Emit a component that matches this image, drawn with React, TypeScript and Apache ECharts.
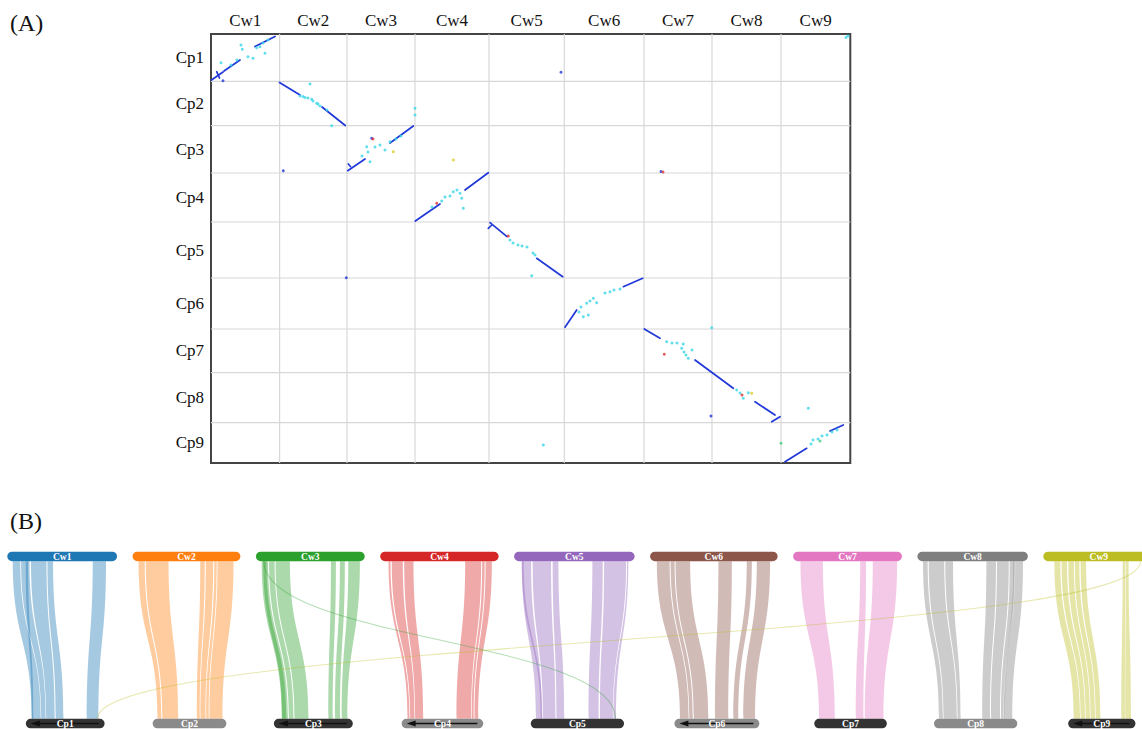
import React, { useEffect, useRef } from 'react';
import * as echarts from 'echarts';

// ---------- chromosome data ----------
const cwNames = ['Cw1', 'Cw2', 'Cw3', 'Cw4', 'Cw5', 'Cw6', 'Cw7', 'Cw8', 'Cw9'];
const cpNames = ['Cp1', 'Cp2', 'Cp3', 'Cp4', 'Cp5', 'Cp6', 'Cp7', 'Cp8', 'Cp9'];
const cwLengths = [68.6, 67.4, 68.0, 74.0, 75.3, 79.7, 68.0, 69.0, 69.3];
const cpLengths = [47.3, 44.3, 47.4, 49.0, 56.0, 51.0, 43.6, 50.0, 40.4];
const cpReversed = [true, false, true, true, false, true, false, false, true];
const cwColors = ['#1f77b4', '#ff7f0e', '#2ca02c', '#d62728', '#9467bd', '#8c564b', '#e377c2', '#7f7f7f', '#bcbd22'];
const cpColors = ['#333333', '#8a8a8a', '#333333', '#8a8a8a', '#333333', '#8a8a8a', '#333333', '#8a8a8a', '#333333'];

// ---------- dot plot (global genome coordinates) ----------
const blueSegments = [
  [0.5, 46, 12, 38], [13, 37, 29, 26], [44, 12.5, 64, 2.5], [5.7, 37.7, 8.5, 44],
  [68.5, 48.5, 89, 61], [111, 73, 134.3, 91.5],
  [136.7, 136.7, 154, 125], [179, 109, 202.3, 92], [137.3, 130, 139.5, 132.5],
  [204.3, 187, 229, 170], [254, 156, 277.3, 138.7],
  [279, 188.7, 296, 202.7], [325.7, 224.3, 351.7, 242.7], [277.3, 194.3, 280.3, 191.5],
  [354, 293.3, 365.7, 276], [412.3, 252.7, 431.7, 244.3],
  [433.3, 295, 449, 304.3], [484, 326, 522.3, 354.3], [544, 367.7, 564, 381], [560.7, 387.7, 569, 382.7],
  [574, 427.7, 595.7, 414.3], [619, 397, 632.3, 391],
];
const cyanDots = [
  [30, 11], [31.3, 15.3], [10, 28.7], [45.7, 13.7], [49, 12.7], [54, 19.3], [37, 22.7], [42, 24.3], [26, 26], [20, 31], [52, 9], [57, 6],
  [89, 62], [94, 63.5], [100.7, 65.3], [105.7, 69.3], [107, 70], [102, 67], [99, 50], [120.7, 91.7], [97, 64], [109, 72], [116, 76], [92, 62.5],
  [155.7, 112.7], [159, 127.7], [174, 116], [179, 107.7], [164, 113], [169, 111], [157, 118], [151, 122], [204, 74.3], [204, 81], [185, 105], [190, 102],
  [242.3, 157.7], [249, 159.3], [250.7, 164.3], [252.3, 174.3], [230.7, 167], [234, 163], [246, 156], [239, 162], [221, 173],
  [302, 209], [307, 211], [311, 212], [316, 213], [322, 219], [320.7, 241.7], [299, 206], [324, 221], [332.3, 411],
  [372.3, 282.7], [377.3, 281], [375.7, 269.3], [382.3, 264.3], [385.7, 268.7], [399, 257.7], [409, 255], [394, 259], [403, 256], [370, 273], [379, 267], [368, 278],
  [455.7, 307.7], [461, 309], [466, 309], [472.3, 310], [470.7, 314.3], [473, 318], [475, 321], [477.3, 324.3], [481, 316], [500.7, 293.7],
  [525.7, 356], [529, 359], [532.3, 364.3], [537.3, 358.7],
  [597.3, 374.3], [602, 406], [607, 405], [611, 402], [616, 401], [621, 398], [626, 396], [600, 410], [637, 2], [635, 3.5],
];
const blueDots = [[12, 46.7], [72.3, 136.7], [350, 38.3], [135.3, 243.7], [500, 382], [160.7, 104.3], [450, 137.5]];
const redDots = [[162, 105], [225.7, 169.3], [453.3, 320.3], [531, 361], [452, 138], [297.3, 202]];
const yellowDots = [[182.3, 117.7], [242.3, 126], [540.7, 359.3]];
const greenDots = [[570, 409.3], [609, 407]];

// ---------- synteny ribbons: [Cw index, Cw start, Cw end, Cp start, Cp end] (Cp along drawn bar) ----------
const ribbons = [
  [1, 3.4, 8.1, 3.6, 9.0], [1, 8.6, 13.9, 9.3, 12.0], [1, 14.8, 24.5, 12.3, 17.4], [1, 25.1, 28.6, 18.0, 22.6], [1, 53.4, 61.7, 36.6, 43.6], [1, 11.5, 13.0, 3.6, 4.6],
  [2, 3.75, 7.6, 3.0, 5.3], [2, 8.25, 22.5, 5.9, 15.4], [2, 42.3, 45.1, 26.6, 28.4], [2, 45.75, 50.4, 28.8, 31.8], [2, 51.1, 52.6, 32.2, 33.8], [2, 53.1, 63.1, 34.2, 42.0],
  [3, 3.6, 7.6, 4.8, 8.5], [3, 8.25, 11.7, 9.1, 11.8], [3, 12.3, 21.25, 12.4, 20.8], [3, 46.9, 50.0, 32.8, 35.4], [3, 52.5, 55.6, 36.8, 39.8], [3, 57.75, 65.0, 40.8, 44.2], [3, 4.6, 6.6, 5.0, 7.5],
  [4, 5.2, 6.4, 3.6, 4.8], [4, 7.2, 14.1, 5.2, 7.8], [4, 15.0, 20.8, 8.2, 13.0], [4, 53.1, 63.1, 33.0, 41.8], [4, 63.75, 65.3, 42.2, 43.3], [4, 65.9, 69.8, 43.8, 46.0],
  [5, 4.8, 10.6, 3.2, 6.8], [5, 11.6, 23.1, 7.4, 14.9], [5, 24.1, 27.7, 15.5, 20.2], [5, 48.9, 55.4, 34.8, 40.8], [5, 56.25, 70.0, 41.6, 49.4], [5, 70.6, 71.4, 49.7, 51.2], [5, 4.8, 6.0, 6.0, 7.0],
  [6, 4.2, 12.2, 3.4, 8.6], [6, 12.8, 15.3, 9.0, 11.1], [6, 15.9, 25.0, 11.7, 20.4], [6, 42.7, 51.1, 24.4, 32.4], [6, 60.4, 63.6, 35.4, 38.4], [6, 66.7, 75.0, 41.4, 48.4],
  [7, 4.6, 18.6, 3.0, 12.4], [7, 41.9, 45.6, 25.0, 29.6], [7, 49.8, 65.0, 30.4, 41.6],
  [8, 3.5, 6.4, 3.0, 5.4], [8, 7.1, 16.75, 5.8, 13.8], [8, 17.4, 22.25, 14.2, 16.0], [8, 43.1, 49.1, 29.0, 33.7], [8, 49.75, 57.1, 34.3, 39.7], [8, 57.7, 60.5, 40.3, 41.8], [8, 61.1, 66.0, 42.4, 47.0], [8, 60.0, 61.0, 42.0, 42.6],
  [9, 6.9, 10.6, 3.4, 7.2], [9, 11.4, 14.8, 7.6, 10.2], [9, 15.6, 19.1, 10.6, 13.2], [9, 19.7, 22.5, 13.6, 16.2], [9, 23.3, 26.7, 16.6, 19.4], [9, 49.6, 51.25, 32.0, 34.2], [9, 51.6, 53.3, 34.4, 37.8],
];
// inter-chromosomal links: [Cw index, Cw pos, Cp index, Cp pos]
const links = [
  [9, 60.8, 1, 43.0],
  [3, 4.9, 5, 50.9],
];

// ---------- helpers / layout ----------
const sum = (a: number[]) => a.reduce((s, v) => s + v, 0);
const cwTotal = sum(cwLengths);
const cpTotal = sum(cpLengths);
const cwStartsG = cwLengths.map((_, i) => sum(cwLengths.slice(0, i)));
const cpStartsG = cpLengths.map((_, i) => sum(cpLengths.slice(0, i)));
const cwBounds = cwStartsG.slice(1);
const cpBounds = cpStartsG.slice(1);
const hexA = (hex: string, a: number) => {
  const n = parseInt(hex.slice(1), 16);
  return `rgba(${(n >> 16) & 255},${(n >> 8) & 255},${n & 255},${a})`;
};

const TOP_X0 = 4.56;
const TOP_GAP = 9.69;
const BOT_SCALE = 1.0417;
const BOT_SHIFT = 1.9;
const topStart: number[] = [];
{
  let acc = TOP_X0;
  cwLengths.forEach((L) => { topStart.push(acc); acc += L + TOP_GAP; });
}
const botStart = cwLengths.map((L, i) => topStart[i] + L / 2 + BOT_SHIFT - (cpLengths[i] * BOT_SCALE) / 2);
const TOP_BAR = [0, 5.4];
const BOT_BAR = [94.6, 100];
const SERIF = 'Liberation Serif';

const textStyle = (text: string, size: number, weight: string, fill: string, align: string, valign: string) => ({
  text, fill,
  fontSize: size, fontFamily: SERIF, fontWeight: weight,
  align, verticalAlign: valign, textAlign: align, textVerticalAlign: valign,
});

function curvePath(ax: number, ay: number, bx: number, by: number) {
  const ym = (ay + by) / 2;
  return `M${ax},${ay} C${ax},${ym} ${bx},${ym} ${bx},${by}`;
}

function buildOption(): any {
  return {
    animation: false,
    backgroundColor: '#ffffff',
    graphic: [
      { type: 'text', left: 10, top: 11, style: { text: '(A)', fontSize: 24, fontFamily: SERIF, fill: '#111' } },
      { type: 'text', left: 10, top: 509, style: { text: '(B)', fontSize: 24, fontFamily: SERIF, fill: '#111' } },
    ],
    grid: [
      { left: 211, top: 34, width: 639.3, height: 429, show: true, borderColor: '#444', borderWidth: 2, backgroundColor: 'transparent' },
      { left: 0, top: 551.7, width: 1142, height: 176.6, show: false },
    ],
    xAxis: [
      { gridIndex: 0, type: 'value', min: 0, max: cwTotal, show: false },
      { gridIndex: 1, type: 'value', min: 0, max: 1142 / 1.6, show: false },
    ],
    yAxis: [
      { gridIndex: 0, type: 'value', min: 0, max: cpTotal, inverse: true, show: false },
      { gridIndex: 1, type: 'value', min: 0, max: 100, inverse: true, show: false },
    ],
    series: [
      // chromosome boundary grid lines
      {
        type: 'custom', xAxisIndex: 0, yAxisIndex: 0, silent: true, z: 1,
        data: [...cwBounds.map((b) => [b, 0, 0]), ...cpBounds.map((b) => [0, b, 1])],
        renderItem: (_p: any, api: any) => {
          const k = api.value(2);
          let a, b;
          if (k === 0) { a = api.coord([api.value(0), 0]); b = api.coord([api.value(0), cpTotal]); }
          else { a = api.coord([0, api.value(1)]); b = api.coord([cwTotal, api.value(1)]); }
          return { type: 'line', shape: { x1: a[0], y1: a[1], x2: b[0], y2: b[1] }, style: { stroke: '#d8d8d8', lineWidth: 1.2 } };
        },
      },
      // Cw labels (top)
      {
        type: 'custom', xAxisIndex: 0, yAxisIndex: 0, silent: true, z: 5,
        data: cwLengths.map((L, i) => [cwStartsG[i] + L / 2, 0, i]),
        renderItem: (_p: any, api: any) => {
          const p = api.coord([api.value(0), 0]);
          return { type: 'text', x: p[0], y: p[1] - 14, style: textStyle(cwNames[api.value(2)], 17, 'normal', '#111', 'center', 'middle') };
        },
      },
      // Cp labels (left)
      {
        type: 'custom', xAxisIndex: 0, yAxisIndex: 0, silent: true, z: 5,
        data: cpLengths.map((L, i) => [0, cpStartsG[i] + L / 2, i]),
        renderItem: (_p: any, api: any) => {
          const p = api.coord([0, api.value(1)]);
          return { type: 'text', x: p[0] - 7, y: p[1], style: textStyle(cpNames[api.value(2)], 17, 'normal', '#111', 'right', 'middle') };
        },
      },
      // collinear segments
      {
        type: 'custom', xAxisIndex: 0, yAxisIndex: 0, silent: true, z: 3,
        data: blueSegments,
        renderItem: (_p: any, api: any) => {
          const a = api.coord([api.value(0), api.value(1)]);
          const b = api.coord([api.value(2), api.value(3)]);
          return { type: 'line', shape: { x1: a[0], y1: a[1], x2: b[0], y2: b[1] }, style: { stroke: '#2038d8', lineWidth: 1.7, lineCap: 'round' } };
        },
      },
      { type: 'scatter', xAxisIndex: 0, yAxisIndex: 0, silent: true, z: 4, symbolSize: 3, data: cyanDots, itemStyle: { color: '#38d6e6' } },
      { type: 'scatter', xAxisIndex: 0, yAxisIndex: 0, silent: true, z: 4, symbolSize: 3, data: blueDots, itemStyle: { color: '#2038d8' } },
      { type: 'scatter', xAxisIndex: 0, yAxisIndex: 0, silent: true, z: 4, symbolSize: 3, data: redDots, itemStyle: { color: '#e03434' } },
      { type: 'scatter', xAxisIndex: 0, yAxisIndex: 0, silent: true, z: 4, symbolSize: 3, data: yellowDots, itemStyle: { color: '#d9cc22' } },
      { type: 'scatter', xAxisIndex: 0, yAxisIndex: 0, silent: true, z: 4, symbolSize: 3, data: greenDots, itemStyle: { color: '#3fcf7a' } },

      // ---------- panel B ----------
      // ribbons
      {
        type: 'custom', xAxisIndex: 1, yAxisIndex: 1, silent: true, z: 1,
        data: ribbons,
        renderItem: (_p: any, api: any) => {
          const c = api.value(0) - 1;
          const a0 = api.coord([topStart[c] + api.value(1), TOP_BAR[1]]);
          const a1 = api.coord([topStart[c] + api.value(2), TOP_BAR[1]]);
          const b0 = api.coord([botStart[c] + api.value(3) * BOT_SCALE, BOT_BAR[0]]);
          const b1 = api.coord([botStart[c] + api.value(4) * BOT_SCALE, BOT_BAR[0]]);
          const ym = (a0[1] + b0[1]) / 2;
          const d = `M${a0[0]},${a0[1]} L${a1[0]},${a1[1]} C${a1[0]},${ym} ${b1[0]},${ym} ${b1[0]},${b1[1]} L${b0[0]},${b0[1]} C${b0[0]},${ym} ${a0[0]},${ym} ${a0[0]},${a0[1]} Z`;
          return { type: 'path', shape: { pathData: d }, style: { fill: hexA(cwColors[c], 0.4), stroke: 'none' } };
        },
      },
      // long-distance links
      {
        type: 'custom', xAxisIndex: 1, yAxisIndex: 1, silent: true, z: 2,
        data: links,
        renderItem: (_p: any, api: any) => {
          const c = api.value(0) - 1;
          const pc = api.value(2) - 1;
          const a = api.coord([topStart[c] + api.value(1), TOP_BAR[1]]);
          const b = api.coord([botStart[pc] + api.value(3) * BOT_SCALE, BOT_BAR[0]]);
          return { type: 'path', shape: { pathData: curvePath(a[0], a[1], b[0], b[1]) }, style: { fill: 'none', stroke: hexA(cwColors[c], 0.35), lineWidth: 1.1 } };
        },
      },
      // Cw bars
      {
        type: 'custom', xAxisIndex: 1, yAxisIndex: 1, silent: true, z: 3,
        data: cwLengths.map((_, i) => [i]),
        renderItem: (_p: any, api: any) => {
          const i = api.value(0);
          const p0 = api.coord([topStart[i], TOP_BAR[0]]);
          const p1 = api.coord([topStart[i] + cwLengths[i], TOP_BAR[1]]);
          const h = p1[1] - p0[1];
          return {
            type: 'group',
            children: [
              { type: 'rect', shape: { x: p0[0], y: p0[1], width: p1[0] - p0[0], height: h, r: h / 2 }, style: { fill: cwColors[i] } },
              { type: 'text', x: (p0[0] + p1[0]) / 2, y: p0[1] + h / 2 + 0.5, style: textStyle(cwNames[i], 9.5, 'bold', '#ffffff', 'center', 'middle') },
            ],
          };
        },
      },
      // Cp bars
      {
        type: 'custom', xAxisIndex: 1, yAxisIndex: 1, silent: true, z: 3,
        data: cpLengths.map((_, i) => [i]),
        renderItem: (_p: any, api: any) => {
          const i = api.value(0);
          const p0 = api.coord([botStart[i], BOT_BAR[0]]);
          const p1 = api.coord([botStart[i] + cpLengths[i] * BOT_SCALE, BOT_BAR[1]]);
          const h = p1[1] - p0[1];
          const cy = p0[1] + h / 2;
          const children: any[] = [
            { type: 'rect', shape: { x: p0[0], y: p0[1], width: p1[0] - p0[0], height: h, r: h / 2 }, style: { fill: cpColors[i] } },
          ];
          if (cpReversed[i]) {
            const xl = p0[0] + 5;
            const xr = p1[0] - 6;
            children.push({ type: 'line', shape: { x1: xr, y1: cy, x2: xl + 7, y2: cy }, style: { stroke: '#111', lineWidth: 1.5 } });
            children.push({ type: 'polygon', shape: { points: [[xl, cy], [xl + 9, cy - 3], [xl + 9, cy + 3]] }, style: { fill: '#111' } });
          }
          children.push({ type: 'text', x: (p0[0] + p1[0]) / 2, y: cy + 0.5, style: textStyle(cpNames[i], 9.5, 'bold', '#ffffff', 'center', 'middle') });
          return { type: 'group', children };
        },
      },
    ],
  };
}

export default function App() {
  const ref = useRef<HTMLDivElement>(null);
  useEffect(() => {
    if (!ref.current) return;
    const chart = echarts.init(ref.current, null, { renderer: 'svg' });
    chart.setOption(buildOption());
    return () => chart.dispose();
  }, []);
  return (
    <div
      ref={ref}
      style={{ position: 'fixed', left: 0, top: 0, width: 1142, height: 729, background: '#ffffff' }}
    />
  );
}
